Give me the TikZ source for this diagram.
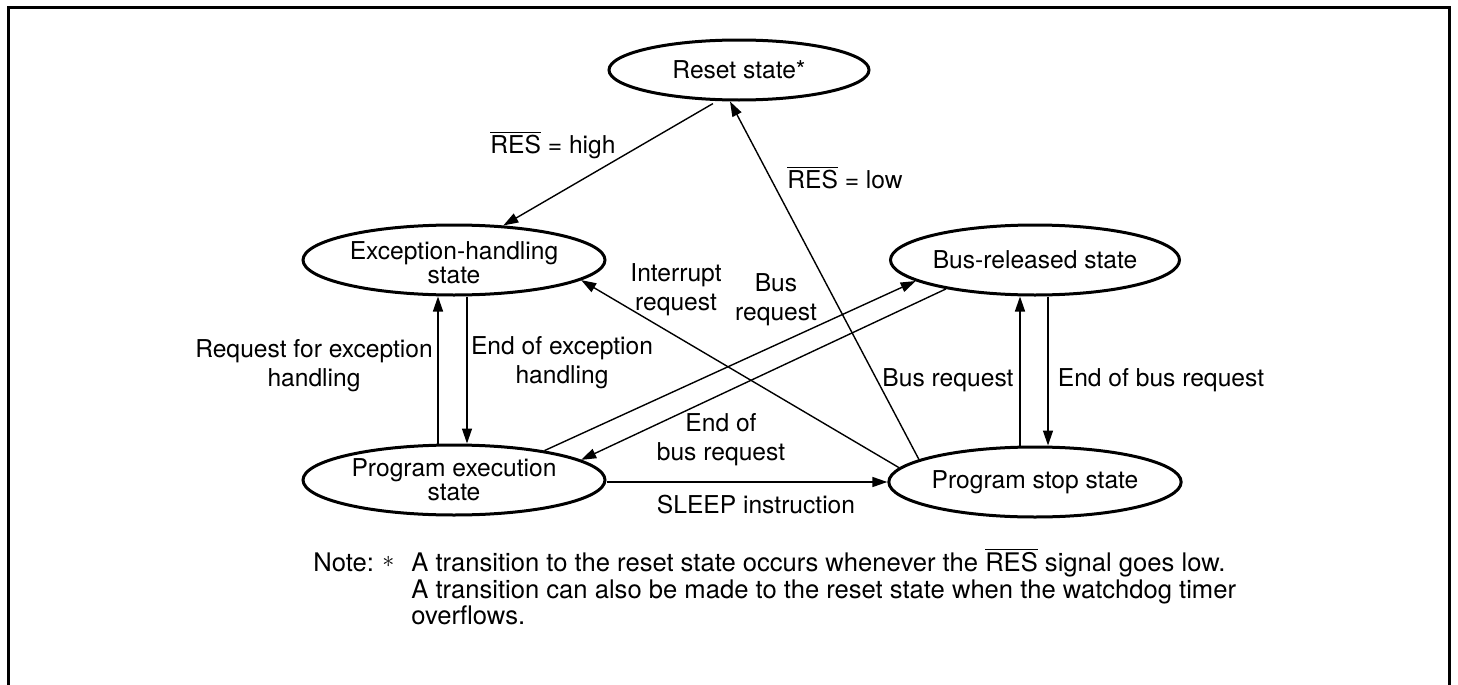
\documentclass[tikz,border=0pt]{standalone}
\usepackage{fontspec}
\setmainfont{TeX Gyre Heros}
\usetikzlibrary{shapes.geometric,arrows.meta}
\newcommand{\resbar}{\(\overline{\mbox{RES}}\)}
\begin{document}
\begin{tikzpicture}[x=0.5pt,y=-0.5pt,
  state/.style={draw,ellipse,line width=1.5pt,inner sep=0pt,align=center,font=\fontsize{12.3}{12}\selectfont},
  conn/.style={line width=0.7pt,-{Triangle[length=7.5pt,width=5pt]}},
  lbl/.style={align=center,font=\fontsize{12.3}{14.5}\selectfont,inner sep=0pt},
  notetxt/.style={anchor=base west,font=\fontsize{12.8}{13.5}\selectfont,inner sep=0pt},
  framestyle/.style={line width=1.5pt}]
\useasboundingbox (0,0) rectangle (1458,685);
\draw[framestyle] (8,690) -- (8,7.5) -- (1449,7.5) -- (1449,690);

\node[state,minimum width=130pt,minimum height=30pt] (reset) at (739,70) {Reset state*};
\node[state,minimum width=151pt,minimum height=35pt] (exc) at (454,260) {\raisebox{-3pt}[\height][\depth]{\begin{tabular}{@{}c@{}}Exception-handling\\state\end{tabular}}};
\node[state,minimum width=143pt,minimum height=35pt] (bus) at (1035,260) {Bus-released state};
\node[state,minimum width=151pt,minimum height=35pt] (prog) at (454,480) {Program execution\\state};
\node[state,minimum width=143pt,minimum height=35pt] (stop) at (1035,482) {Program stop state};

\draw[conn,shorten <=2.5pt] (reset.235.6) -- (exc.35);
\draw[conn] (stop.169.7) -- (reset.254.7);
\draw[conn] (stop.174.8) -- (exc.351.4);
\draw[conn] (prog.18.4) -- (bus.190);
\draw[conn] (bus.198.4) -- (prog.9.5);
\draw[conn] (prog.east |- stop.west) -- (stop.west);
\draw[conn] ([xshift=-8pt]prog.north) -- ([xshift=-8pt]exc.south);
\draw[conn] ([xshift=6.5pt]exc.south) -- ([xshift=6.5pt]prog.north);
\draw[conn] ([xshift=-7.5pt]stop.north) -- ([xshift=-7.5pt]bus.south);
\draw[conn] ([xshift=6.5pt]bus.south) -- ([xshift=6.5pt]stop.north);

\node[lbl] (lhigh) at (553,145) {\resbar{} = high};
\node[lbl] (llow) at (845,178) {\resbar{} = low};
\node[lbl] (lint) at (676,290) {Interrupt\\request};
\node[lbl] (lbusreq) at (776,300) {Bus\\request};
\node[lbl] (lreqexc) at (314,366) {Request for exception\\handling};
\node[lbl] (lendexc) at (562,363) {End of exception\\handling};
\node[lbl] (lbusreq2) at (948,380) {Bus request};
\node[lbl] (lendbus2) at (1161,380) {End of bus request};
\node[lbl] (lendbus) at (721,440) {End of\\bus request};
\node[lbl] (lsleep) at (756,505) {SLEEP instruction};

\node[notetxt] (nnote) at (313,571.5) {Note:};
\node[notetxt] (nast) at (382,571.5) {\raisebox{2pt}{$\ast$}};
\node[notetxt] (nl1) at (411,571.5) {A transition to the reset state occurs whenever the \resbar{} signal goes low.};
\node[notetxt] (nl2) at (411,598) {A transition can also be made to the reset state when the watchdog timer};
\node[notetxt] (nl3) at (411,624.5) {overflows.};
\end{tikzpicture}
\end{document}
